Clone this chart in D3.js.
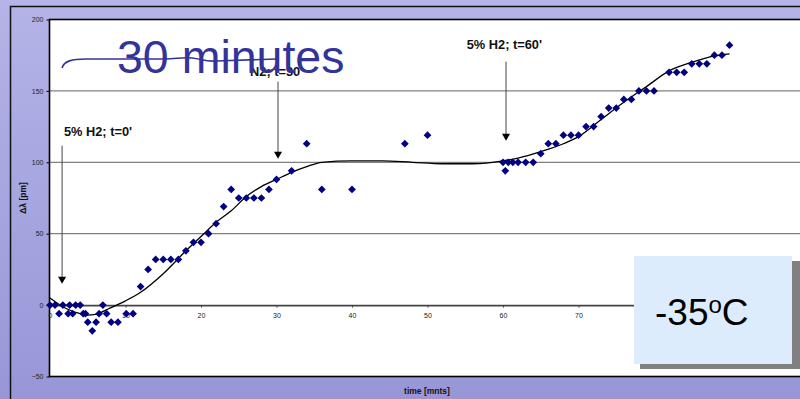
<!DOCTYPE html>
<html><head><meta charset="utf-8">
<script src="https://cdn.jsdelivr.net/npm/d3@7"></script>
<style>html,body{margin:0;padding:0;overflow:hidden;background:#a5a5df}svg{display:block}</style>
</head><body><svg id="c" width="800" height="399"></svg>
<script>
// Measured points: time [mnts] and wavelength shift [pm]
const times  = [0,0.66,1.2,1.7,2.4,2.6,3.0,3.4,4.0,4.4,4.7,5.0,5.6,6.1,6.5,7.0,7.5,8.1,9.0,10.1,11.0,
  12,13,14,15,16,17,18,19,20,21,22,23,24,25,26,27,28,29,30,32,34,36,40,47,50,
  60,60.3,60.7,61.3,62,63,64,65,66,67,68,69,70,71,72,73,74,75,76,77,78,79,80,82,83,84,85,86,87,88,89,90];
const shifts = [0,0,-6,0,-6,0,-6,0,0,-6,-6,-12,-18,-12,-6,0,-6,-12,-12,-6,-6,
  13,25,32,32,32,32,38,44,44,50,57,69,81,75,75,75,75,81,88,94,113,81,81,113,119,
  100,94,100,100,100,100,100,106,113,113,119,119,119,125,125,132,138,138,144,144,150,150,150,163,163,163,169,169,169,175,175,182];
// Trend line (polynomial fit)
const trendTimes  = [0,2,4,5,6,8,10,12,15,18,20,22,24,26,28,30,32,34,36,40,44,48,52,56,60,62,65,68,70,73,76,79,82,85,88,90];
const trendShifts = [5,-2,-6,-7,-6.5,-2,3,9,22,38,48,58,66,76,83,88,93,97,100,101,101,100,99,99,101,103,107.5,113,118,130,142,153,164,170,174.5,176];
const xTicks = [0,10,20,30,40,50,60,70,80,90,100];
const yTicks = [-50,0,50,100,150,200];
const gridValues = [50,100,150];
const annLabels = ["5% H2; t=0'", "N2; t=30'", "5% H2; t=60'"];
const annLabelT = [1.85, 26.5, 55.2];
const annLabelV = [118.6, 160.7, 179];
const annArrowT = [1.6, 30.2, 60.4];
const annArrowTop = [111.6, 156.5, 170.5];
const annArrowTip = [14.9, 102.5, 115.1];
const titleText = "30 minutes";
const tempText = "-35";
const xTitle = "time [mnts]";
const yTitle = "\u0394\u03bb [pm]";

const svg = d3.select("#c");
const W = 800, H = 399;
const font = "Arial, 'Liberation Sans', sans-serif";

const defs = svg.append("defs");
const g = defs.append("linearGradient").attr("id","bg").attr("x1",0).attr("y1",0).attr("x2",0).attr("y2",1);
g.append("stop").attr("offset","0%").attr("stop-color","#b4b4e8");
g.append("stop").attr("offset","100%").attr("stop-color","#9797d8");
svg.append("rect").attr("width",W).attr("height",H).attr("fill","url(#bg)");

// outer frame
svg.append("rect").attr("x",10.5).attr("y",6.5).attr("width",900).attr("height",500)
  .attr("fill","none").attr("stroke","#111").attr("stroke-width",1.5);

const x = d3.scaleLinear().domain([0,100]).range([50,805]);
const y = d3.scaleLinear().domain([-50,200]).range([376.5,19.5]);

// plot area
svg.append("rect").attr("x",49.5).attr("y",19.5).attr("width",800).attr("height",357)
  .attr("fill","#fff");

// gridlines
svg.append("g").selectAll("line").data(gridValues).join("line")
  .attr("x1",50).attr("x2",W).attr("y1",d=>y(d)).attr("y2",d=>y(d))
  .attr("stroke","#808080").attr("stroke-width",1.3);

// plot border
svg.append("rect").attr("x",49.5).attr("y",19.5).attr("width",800).attr("height",357)
  .attr("fill","none").attr("stroke","#000").attr("stroke-width",1.6);

// y axis
const yAxis = svg.append("g").attr("transform","translate(49.5,0)")
  .call(d3.axisLeft(y).tickValues(yTicks).tickSize(3).tickPadding(3));
yAxis.select(".domain").remove();
yAxis.selectAll("line").attr("stroke","#000");
yAxis.selectAll("text").attr("font-family",font).attr("font-size",7).attr("fill","#222");

// x axis at y=0
const xAxis = svg.append("g").attr("transform",`translate(0,${y(0)})`)
  .call(d3.axisBottom(x).tickValues(xTicks).tickSize(2.5).tickPadding(5));
xAxis.select(".domain").attr("stroke","#444").attr("stroke-width",1.8);
xAxis.selectAll("line").attr("stroke","#444");
xAxis.selectAll("text").attr("font-family",font).attr("font-size",7).attr("fill","#222");

// trend line
const line = d3.line().x(d=>x(d[0])).y(d=>y(d[1])).curve(d3.curveMonotoneX);
svg.append("path").datum(trendTimes.map((t,i)=>[t,trendShifts[i]]))
  .attr("d",line).attr("fill","none").attr("stroke","#000").attr("stroke-width",1.3);

// points
const diamond = d3.symbol().type(d3.symbolSquare).size(30);
svg.append("g").selectAll("path").data(times.map((t,i)=>[t,shifts[i]])).join("path")
  .attr("d",diamond)
  .attr("transform",d=>`translate(${x(d[0])},${y(d[1])}) rotate(45)`)
  .attr("fill","#000080");

// annotations
const ann = svg.append("g");
annLabels.forEach((lab,i)=>{
  const ax = x(annArrowT[i]), top = y(annArrowTop[i]), tip = y(annArrowTip[i]);
  ann.append("line").attr("x1",ax).attr("x2",ax).attr("y1",top).attr("y2",tip-5)
    .attr("stroke","#444").attr("stroke-width",1);
  ann.append("path").attr("d",`M${ax-4},${tip-7}L${ax+4},${tip-7}L${ax},${tip}Z`).attr("fill","#000");
  ann.append("text").attr("x",x(annLabelT[i])).attr("y",y(annLabelV[i]))
    .attr("font-family",font).attr("font-weight","bold").attr("font-size",12.8)
    .attr("fill","#111").text(lab);
});

// axis titles
svg.append("text").attr("x",427).attr("y",394).attr("text-anchor","middle")
  .attr("font-family",font).attr("font-weight","bold").attr("font-size",8.5).attr("fill","#111").text(xTitle);
svg.append("text").attr("transform","translate(26,198) rotate(-90)").attr("text-anchor","middle")
  .attr("font-family",font).attr("font-weight","bold").attr("font-size",8.5).attr("fill","#111").text(yTitle);

// "30 minutes" overlay
svg.append("text").attr("x",117).attr("y",73).attr("font-family",font).attr("font-size",46.5)
  .attr("fill","#33339a").text(titleText);
svg.append("path").attr("d","M62,68 C64,61 72,59 86,59 L165,59 C176,59 182,57 192,58 C202,59 206,62 216,61 L276,59")
  .attr("fill","none").attr("stroke","#33339a").attr("stroke-width",1.6);

// temperature box
svg.append("rect").attr("x",640).attr("y",261).attr("width",160).attr("height",108).attr("fill","#808080");
svg.append("rect").attr("x",634).attr("y",256).attr("width",158).attr("height",108).attr("fill","#ddecfc");
const tt = svg.append("text").attr("x",655).attr("y",325).attr("font-family",font).attr("font-size",37).attr("fill","#000");
tt.append("tspan").text(tempText);
tt.append("tspan").attr("font-size",24).attr("dy",-12).text("o");
tt.append("tspan").attr("dy",12).text("C");
</script></body></html>
